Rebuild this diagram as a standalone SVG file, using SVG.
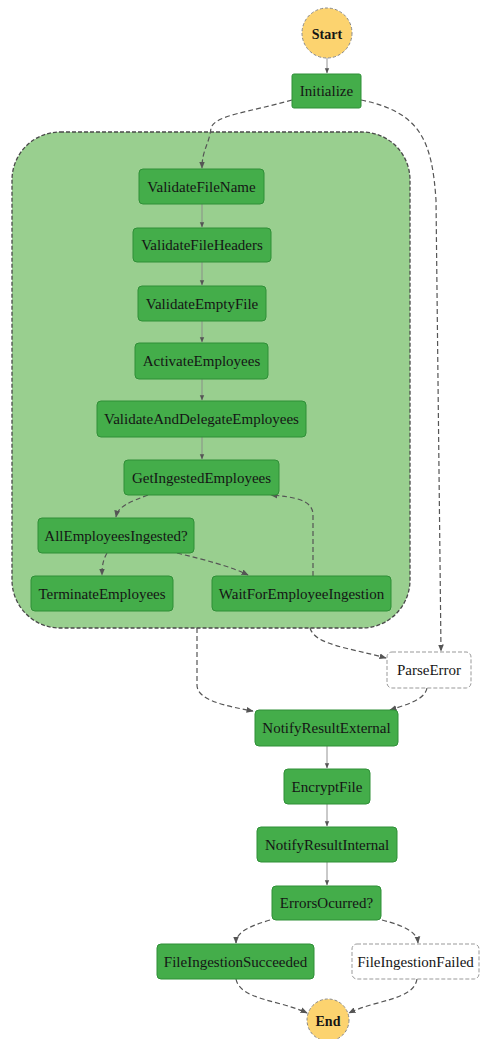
<svg xmlns="http://www.w3.org/2000/svg" width="481" height="1039" viewBox="0 0 481 1039">
<defs>
<marker id="ah" viewBox="0 0 10 10" refX="9" refY="5" markerWidth="6" markerHeight="6" orient="auto-start-reverse"><path d="M0,1 L10,5 L0,9 z" fill="#555"/></marker>
<style>
.n rect{fill:#44ad4a;stroke:#2f8f37;stroke-width:1}
.w rect{fill:#fff;stroke:#999;stroke-width:1;stroke-dasharray:4 2}
text{font-family:"Liberation Serif","Times New Roman",serif;font-size:15px;fill:#151515;text-anchor:middle;dominant-baseline:central}
.c{fill:#fcd36f;stroke:#888;stroke-width:1;stroke-dasharray:3 2}
.b{font-weight:bold;font-size:14px}
.e path{fill:none;stroke:#555;stroke-width:1.2;stroke-dasharray:5 3;marker-end:url(#ah)}
.e path.s{stroke:#888;stroke-width:0.9;stroke-dasharray:none}
</style>
</defs>
<g id="group">
<rect x="12" y="132" width="398" height="496" rx="48" fill="#99cf8f" stroke="#4a4a4a" stroke-width="1.3" stroke-dasharray="4 2"/>
</g>
<g class="e" id="connectors">
<path class="s" d="M327,58 L327,73"/>
<path d="M292,100 C250,112 215,115 211,128 C209,145 202,150 202,168"/>
<path d="M361,100 C420,112 432,140 436,200 L441,651"/>
<path class="s" d="M202,204 L202,227"/>
<path class="s" d="M202,262 L202,285"/>
<path class="s" d="M202,321 L202,342"/>
<path class="s" d="M202,379 L202,400"/>
<path class="s" d="M202,437 L202,459"/>
<path d="M148,495 C130,502 118,506 116,517"/>
<path d="M107,553 C103,560 102,566 102,575"/>
<path d="M177,553 C205,560 230,566 248,575"/>
<path d="M313,576 L313,515 C313,500 295,497 271,495"/>
<path d="M197,628 L197,685 C197,700 225,706 253,711"/>
<path d="M310,628 C315,645 350,648 386,658"/>
<path d="M427,688 C425,700 405,705 390,710"/>
<path class="s" d="M327,746 L327,768"/>
<path class="s" d="M327,804 L327,826"/>
<path class="s" d="M327,862 L327,885"/>
<path d="M270,920 C250,926 236,932 236,943"/>
<path d="M382,920 C405,926 417,932 418,943"/>
<path d="M236,979 C240,1000 280,1000 307,1013"/>
<path d="M417,979 C414,1000 375,1000 349,1013"/>
</g>
<g id="start"><circle class="c" cx="327" cy="33" r="25"/><text class="b" x="327" y="34">Start</text></g>
<g id="initialize" class="n"><rect x="292" y="74" width="69" height="34" rx="2"/><text x="326.5" y="91">Initialize</text></g>
<g id="validateFileName" class="n"><rect x="139" y="169" width="125" height="35" rx="4"/><text x="201.5" y="186.5">ValidateFileName</text></g>
<g id="validateFileHeaders" class="n"><rect x="133" y="228" width="138" height="34" rx="4"/><text x="202" y="245">ValidateFileHeaders</text></g>
<g id="validateEmptyFile" class="n"><rect x="138" y="286" width="128" height="35" rx="4"/><text x="202" y="303.5">ValidateEmptyFile</text></g>
<g id="activateEmployees" class="n"><rect x="135" y="343" width="133" height="36" rx="4"/><text x="201.5" y="361">ActivateEmployees</text></g>
<g id="validateAndDelegateEmployees" class="n"><rect x="97" y="401" width="209" height="36" rx="4"/><text x="201.5" y="419">ValidateAndDelegateEmployees</text></g>
<g id="getIngestedEmployees" class="n"><rect x="124" y="460" width="155" height="35" rx="4"/><text x="201.5" y="477.5">GetIngestedEmployees</text></g>
<g id="allEmployeesIngested" class="n"><rect x="38" y="518" width="156" height="35" rx="4"/><text x="116" y="535.5">AllEmployeesIngested?</text></g>
<g id="terminateEmployees" class="n"><rect x="31" y="576" width="142" height="35" rx="4"/><text x="102" y="593.5">TerminateEmployees</text></g>
<g id="waitForEmployeeIngestion" class="n"><rect x="212" y="576" width="179" height="35" rx="4"/><text x="301.5" y="593.5">WaitForEmployeeIngestion</text></g>
<g id="parseError" class="w"><rect x="387" y="652" width="84" height="36" rx="5"/><text x="429" y="670">ParseError</text></g>
<g id="notifyResultExternal" class="n"><rect x="255" y="710" width="143" height="36" rx="4"/><text x="326.5" y="728">NotifyResultExternal</text></g>
<g id="encryptFile" class="n"><rect x="284" y="769" width="86" height="35" rx="4"/><text x="327" y="786.5">EncryptFile</text></g>
<g id="notifyResultInternal" class="n"><rect x="257" y="827" width="140" height="35" rx="4"/><text x="327" y="844.5">NotifyResultInternal</text></g>
<g id="errorsOcurred" class="n"><rect x="272" y="886" width="109" height="34" rx="4"/><text x="326.5" y="903">ErrorsOcurred?</text></g>
<g id="fileIngestionSucceeded" class="n"><rect x="157" y="944" width="157" height="35" rx="4"/><text x="235.5" y="961.5">FileIngestionSucceeded</text></g>
<g id="fileIngestionFailed" class="w"><rect x="352" y="944" width="127" height="35" rx="5"/><text x="415.5" y="961.5">FileIngestionFailed</text></g>
<g id="end"><circle class="c" cx="328" cy="1020" r="21"/><text class="b" x="328" y="1021">End</text></g>
</svg>
